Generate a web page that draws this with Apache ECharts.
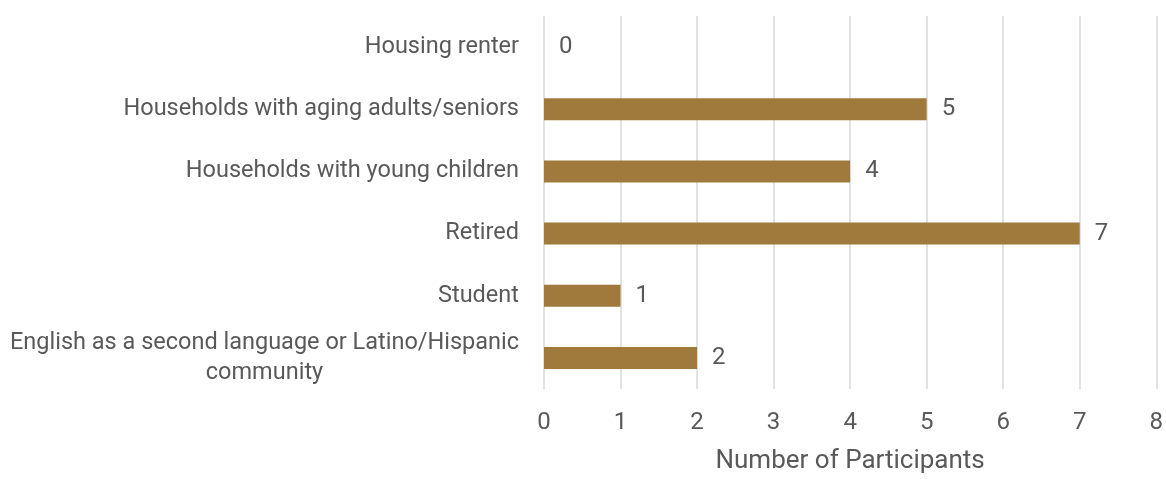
<!DOCTYPE html>
<html>
<head>
<meta charset="utf-8">
<script src="https://cdn.jsdelivr.net/npm/echarts@6/dist/echarts.min.js"></script>
<style>
  html, body { margin: 0; padding: 0; background: #ffffff; }
  #chart { width: 1166px; height: 479px; }
</style>
</head>
<body>
<div id="chart"></div>
<script>
// Participant groups, listed top to bottom
const categories = [
  'Housing renter',
  'Households with aging adults/seniors',
  'Households with young children',
  'Retired',
  'Student',
  'English as a second language or Latino/Hispanic\ncommunity'
];
const participants = [0, 5, 4, 7, 1, 2];
const xTicks = [0, 1, 2, 3, 4, 5, 6, 7, 8];

const textColor = '#595959';
const labelMargin = 25;
const gridLeft = 544;

const chart = echarts.init(document.getElementById('chart'), null, { renderer: 'canvas' });

// Two-line labels are centred on their own block, other labels hug the axis
const yData = categories.map(name => {
  if (name.indexOf('\n') < 0) return name;
  const blockWidth = gridLeft - labelMargin - 10;
  return {
    value: name,
    textStyle: { align: 'center', padding: [0, blockWidth, 0, 0] }
  };
});

chart.setOption({
  animation: false,
  textStyle: { fontFamily: 'Roboto' },
  grid: { left: gridLeft, right: 5, top: 16, bottom: 87, containLabel: false },
  xAxis: {
    type: 'value',
    min: xTicks[0],
    max: xTicks[xTicks.length - 1],
    interval: 1,
    name: 'Number of Participants',
    nameLocation: 'middle',
    nameGap: 59,
    nameTextStyle: { color: textColor, fontSize: 26, fontFamily: 'Roboto' },
    axisLine: { show: false },
    axisTick: { show: false },
    axisLabel: { color: textColor, fontSize: 24, margin: 22, fontFamily: 'Roboto' },
    splitLine: { show: true, lineStyle: { color: '#d9d9d9', width: 1.5 } }
  },
  yAxis: {
    type: 'category',
    data: yData,
    inverse: true,
    axisLine: { show: false },
    axisTick: { show: false },
    axisLabel: {
      color: textColor,
      fontSize: 23.5,
      margin: labelMargin,
      lineHeight: 30,
      align: 'right',
      fontFamily: 'Roboto'
    },
    splitLine: { show: false }
  },
  series: [{
    type: 'bar',
    data: participants,
    barWidth: 22,
    itemStyle: { color: '#a07a3c' },
    label: {
      show: true,
      position: 'right',
      distance: 15,
      color: textColor,
      fontSize: 24,
      fontFamily: 'Roboto'
    }
  }]
});
</script>
</body>
</html>
